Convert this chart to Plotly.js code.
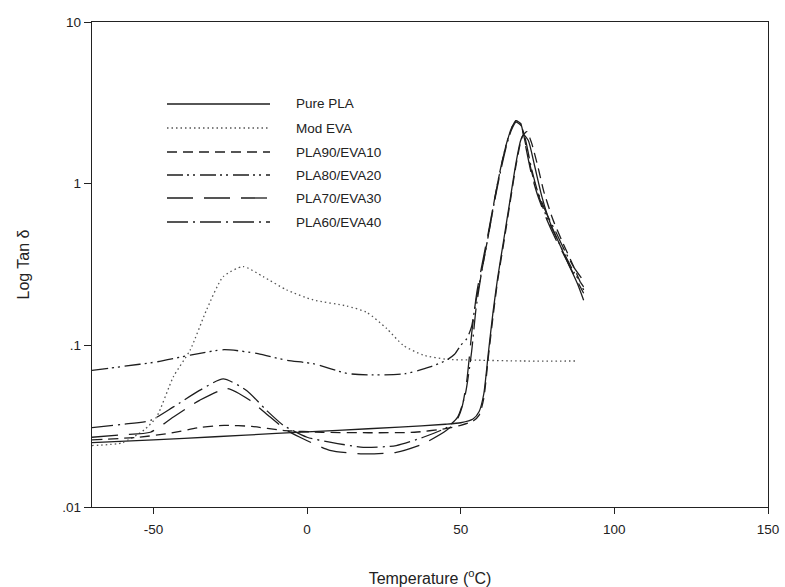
<!DOCTYPE html>
<html>
<head>
<meta charset="utf-8">
<script src="https://cdn.plot.ly/plotly-3.0.1.min.js"></script>
<style>
  html, body { margin: 0; padding: 0; background: #fff; }
  #chart { width: 785px; height: 587px; }
</style>
</head>
<body>
<div id="chart"></div>
<script>
// ---- Data ----
const seriesNames = ["Pure PLA", "Mod EVA", "PLA90/EVA10", "PLA80/EVA20", "PLA70/EVA30", "PLA60/EVA40"];

const purePLA_x = [-70,-50,-30,-10,10,30,45,50,54,56,57.5,59,60.5,62,64,66,68,69.5,70.5,72,74,76.5,79,82,85,88,90];
const purePLA_y = [0.025,0.026,0.0272,0.0285,0.0298,0.0312,0.0325,0.0332,0.035,0.039,0.05,0.09,0.16,0.26,0.45,0.78,1.35,1.85,2.0,1.85,1.3,0.82,0.58,0.43,0.32,0.24,0.19];

const modEVA_x = [-70,-60,-53,-49,-43.5,-38,-32.7,-27.3,-20.8,-14.3,-6.6,2,12.9,19.4,25.9,31.3,37.8,45.4,55,70,88];
const modEVA_y = [0.024,0.025,0.03,0.036,0.064,0.094,0.166,0.266,0.307,0.266,0.22,0.191,0.175,0.16,0.127,0.1,0.087,0.082,0.081,0.08,0.08];

const pla90_x = [-70,-55,-45,-35,-27,-18,-8,5,20,35,45,50,54,56,57.5,59,60.5,62,64,66,68,70,71.5,73,75,77,80,83,86,90];
const pla90_y = [0.026,0.027,0.0285,0.031,0.032,0.0315,0.0298,0.029,0.0288,0.029,0.0305,0.032,0.034,0.037,0.047,0.085,0.15,0.25,0.43,0.75,1.3,1.95,2.1,1.8,1.3,0.9,0.6,0.44,0.33,0.22];

const pla80_x = [-70,-60,-49,-38,-27,-16,-7,2,13,21.5,32,40,45.4,48,50,52,53.5,55,57,59,61,63,65,66.5,68,69.5,71,73,75,78,81,84,87,90];
const pla80_y = [0.070,0.074,0.079,0.087,0.094,0.089,0.081,0.077,0.067,0.0656,0.0668,0.0735,0.081,0.088,0.1,0.11,0.13,0.19,0.3,0.48,0.8,1.25,1.8,2.2,2.45,2.35,1.8,1.2,0.88,0.62,0.47,0.36,0.28,0.23];

const pla70_x = [-70,-60,-51,-43.5,-35,-26,-18.6,-12,-6.6,-2.3,7.4,18.3,29,37.8,45.4,48.7,50.5,52,53.6,55.2,57,59,61,63,65,66.5,68,69.5,71,73,75,78,81,84,87,90];
const pla70_y = [0.027,0.028,0.029,0.036,0.0457,0.054,0.0457,0.036,0.0298,0.027,0.0224,0.0213,0.0218,0.0246,0.0298,0.0343,0.042,0.061,0.12,0.21,0.32,0.5,0.8,1.25,1.8,2.2,2.45,2.35,1.75,1.15,0.85,0.6,0.45,0.35,0.27,0.21];

const pla60_x = [-70,-60,-51,-43.5,-35,-27.3,-19.7,-13.2,-7.7,0,7.4,18.3,29,37.8,45.4,49,51.5,53.5,55,57,59,61,63,65,66.5,68,69.5,71,73,75,78,81,84,87,90];
const pla60_y = [0.031,0.0325,0.0343,0.0416,0.0526,0.062,0.0526,0.0396,0.032,0.027,0.0252,0.0234,0.024,0.027,0.031,0.036,0.05,0.09,0.17,0.3,0.48,0.78,1.2,1.75,2.15,2.4,2.3,1.9,1.25,0.9,0.65,0.5,0.38,0.3,0.25];

const yTickVals = [0.01, 0.1, 1, 10];
const yTickText = [".01", ".1", "1", "10"];
const xTickVals = [-50, 0, 50, 100, 150];
const xTickText = ["-50", "0", "50", "100", "150"];

// ---- Styles ----
const ink = "#1e1e1e";
const styles = [
  {color: ink, width: 1.3, dash: "solid"},
  {color: "#555", width: 1.3, dash: "1.5px,3px"},
  {color: ink, width: 1.3, dash: "10px,6px"},
  {color: ink, width: 1.3, dash: "16px,4px,2px,4px,2px,5px"},
  {color: ink, width: 1.3, dash: "26px,11px"},
  {color: ink, width: 1.3, dash: "21px,5px,2px,5px"}
];
const xs = [purePLA_x, modEVA_x, pla90_x, pla80_x, pla70_x, pla60_x];
const ys = [purePLA_y, modEVA_y, pla90_y, pla80_y, pla70_y, pla60_y];

const traces = seriesNames.map((n, i) => ({
  type: "scatter", mode: "lines", name: n,
  x: xs[i], y: ys[i],
  line: Object.assign({shape: "spline", smoothing: 0.6}, styles[i]),
  showlegend: false, hoverinfo: "skip"
}));

// ---- Custom legend (long line samples like the original) ----
const plotL = 92, plotR = 768, plotT = 22, plotB = 507;
const px2x = p => (p - plotL) / (plotR - plotL);
const py2y = p => (plotB - p) / (plotB - plotT);
const legRows = [104, 128, 152, 175, 198, 222];
const shapes = [];
const annotations = [];
const fontFam = "Liberation Sans, Arial, sans-serif";
seriesNames.forEach((n, i) => {
  shapes.push({
    type: "line", xref: "paper", yref: "paper",
    x0: px2x(167), x1: px2x(270), y0: py2y(legRows[i]), y1: py2y(legRows[i]),
    line: {color: styles[i].color, width: styles[i].width, dash: styles[i].dash}
  });
  annotations.push({
    xref: "paper", yref: "paper", x: px2x(294), y: py2y(legRows[i]),
    xanchor: "left", yanchor: "middle", showarrow: false, text: n,
    font: {family: fontFam, size: 13.5, color: "#222"}
  });
});

const layout = {
  width: 785, height: 587,
  margin: {l: plotL, r: 785 - plotR, t: plotT, b: 587 - plotB, pad: 0},
  paper_bgcolor: "#fff", plot_bgcolor: "#fff",
  showlegend: false,
  font: {family: fontFam, size: 13, color: "#222"},
  xaxis: {
    range: [-70, 150], tickvals: xTickVals, ticktext: xTickText,
    ticks: "outside", ticklen: 6, tickwidth: 1, ticklabelstandoff: 4,
    tickcolor: "#222", showline: true, linecolor: "#222", linewidth: 1.2, mirror: true,
    showgrid: false, zeroline: false, automargin: false,
    tickfont: {family: fontFam, size: 13.5, color: "#222"},
    title: {text: "Temperature (<sup>o</sup>C)", font: {family: fontFam, size: 16, color: "#222"}, standoff: 38}
  },
  yaxis: {
    type: "log", range: [-2, 1], tickvals: yTickVals, ticktext: yTickText,
    ticks: "outside", ticklen: 7, tickwidth: 1, tickcolor: "#222",
    showline: true, linecolor: "#222", linewidth: 1.2, mirror: true,
    showgrid: false, zeroline: false, automargin: false,
    tickfont: {family: fontFam, size: 13.5, color: "#222"},
    title: {text: "Log Tan δ", font: {family: fontFam, size: 16, color: "#222"}, standoff: 28}
  },
  shapes: shapes,
  annotations: annotations
};

Plotly.newPlot("chart", traces, layout, {displayModeBar: false, staticPlot: true});
</script>
</body>
</html>
